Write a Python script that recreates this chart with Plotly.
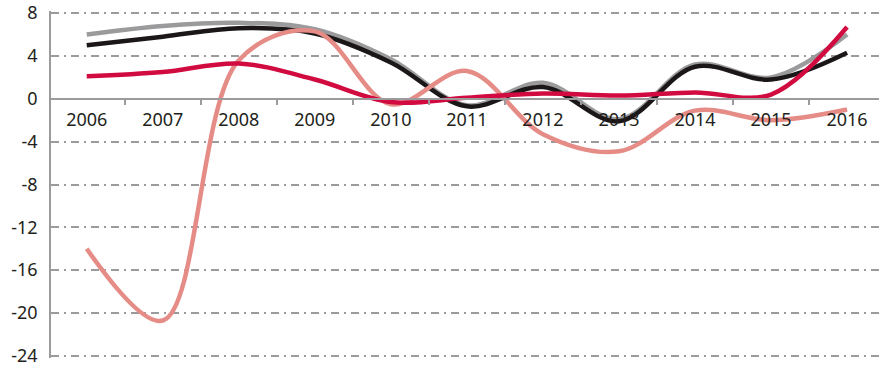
import plotly.graph_objs as go

# Данные по годам
years = ["2006", "2007", "2008", "2009", "2010", "2011", "2012", "2013", "2014", "2015", "2016"]
gray_vals = [6.0, 6.8, 7.1, 6.5, 3.7, -0.6, 1.5, -1.9, 3.2, 2.0, 6.0]
black_vals = [5.0, 5.8, 6.6, 6.1, 3.4, -0.7, 1.1, -2.1, 3.0, 1.8, 4.3]
pink_vals = [-14.0, -20.7, 3.6, 6.3, -0.5, 2.6, -3.3, -4.9, -1.1, -2.0, -1.0]
red_vals = [2.1, 2.5, 3.3, 1.8, -0.3, 0.1, 0.5, 0.3, 0.6, 0.4, 6.7]

y_ticks = [8, 4, 0, -4, -8, -12, -16, -20, -24]

series = [
    (gray_vals, "#9b9b9d"),
    (black_vals, "#1b1718"),
    (pink_vals, "#e68c87"),
    (red_vals, "#d10a40"),
]

fig = go.Figure()
for vals, color in series:
    fig.add_trace(go.Scatter(
        x=years, y=vals, mode="lines",
        line=dict(color=color, width=4.5, shape="spline", smoothing=1.0),
        showlegend=False, hoverinfo="skip",
    ))

font = dict(family="Noto Sans, Open Sans, sans-serif", size=18, color="#231f20")

fig.update_layout(
    width=879, height=368,
    margin=dict(t=11, b=10, l=51, r=0),
    plot_bgcolor="white", paper_bgcolor="white",
    font=font,
    xaxis=dict(
        type="category",
        range=[-0.47, 10.42],
        anchor="free", position=(0 + 24.2) / 32.4,
        automargin=False,
        showgrid=False,
        showline=True, linecolor="#9b9b9d", linewidth=1.5,
        ticks="outside", tickson="boundaries", ticklen=5,
        tickcolor="#9b9b9d", tickwidth=1.5,
        ticklabelstandoff=5,
        tickfont=font,
    ),
    yaxis=dict(
        range=[-24.2, 8.2],
        automargin=False,
        tickvals=y_ticks,
        ticktext=[str(v) for v in y_ticks],
        showgrid=True, gridcolor="#9b9b9d", gridwidth=1.5,
        griddash="8px,5px,2px,5px",
        zeroline=True, zerolinecolor="#9b9b9d", zerolinewidth=1.5,
        showline=True, linecolor="#9b9b9d", linewidth=1.5,
        ticks="", ticklabelstandoff=8,
        tickfont=font,
    ),
)

# убираем стандартный отступ body, чтобы фигура начиналась с угла окна
fig.write_html(
    "out.html",
    config={"displayModeBar": False},
    post_script="document.body.style.margin='0';",
)
